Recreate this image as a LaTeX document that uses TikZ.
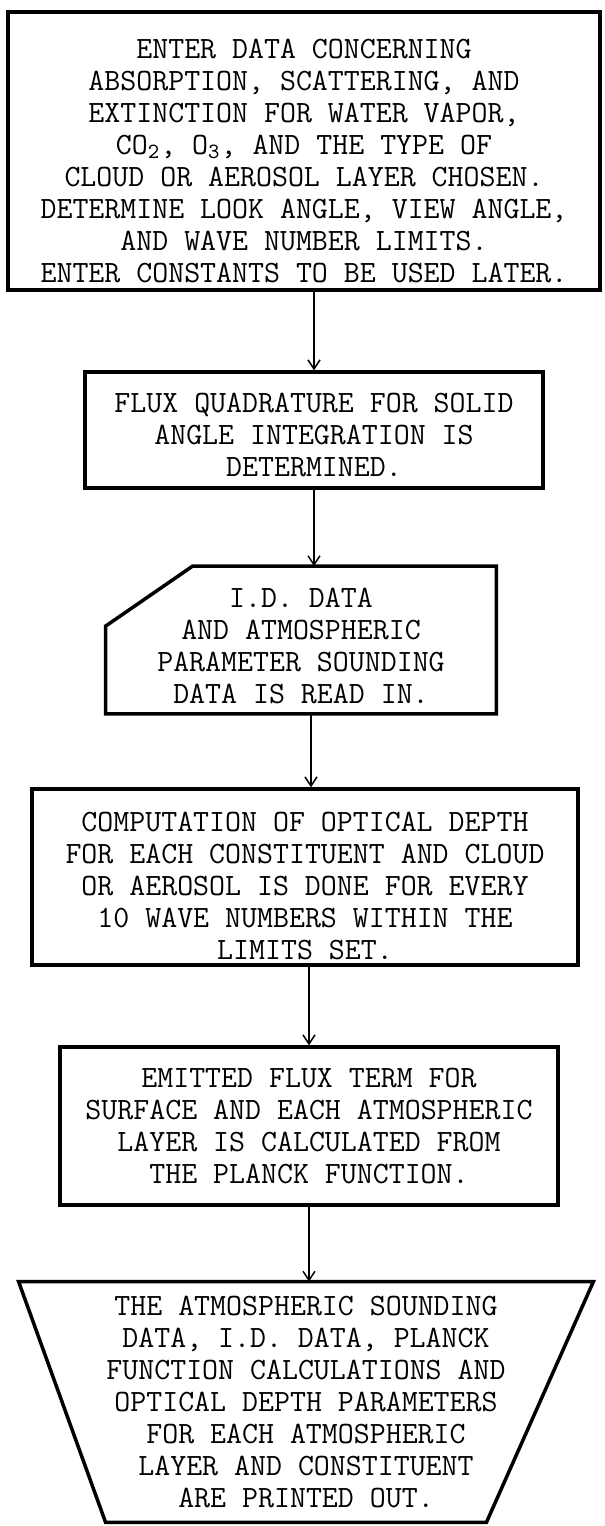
\documentclass[tikz,border=0pt]{standalone}
\usepackage{tikz}
\usetikzlibrary{arrows.meta}

% strut that pushes the typed lines a little lower in their box
\newcommand{\lowr}[1]{\rule{0pt}{#1}}

\begin{document}
\begin{tikzpicture}[
		x=0.5pt, y=-0.5pt,
		every node/.style={font=\ttfamily\fontsize{15.5}{16}\selectfont, align=center, inner sep=0pt},
		procbox/.style={draw, line width=1.75pt},
		bare/.style={draw=none},
		outline/.style={line width=1.75pt},
		flow/.style={line width=0.75pt, -{Straight Barb[length=4.5pt, width=6pt]}}
		]
	
	\useasboundingbox (0, 0) rectangle (605, 1526);
	
	% Box 1
	\node[procbox, minimum width=296pt, minimum height=139pt] (setup) at (304, 151) {\lowr{19.5pt}ENTER DATA CONCERNING\\ABSORPTION, SCATTERING, AND\\EXTINCTION FOR WATER VAPOR,\\CO\textsubscript{2}, O\textsubscript{3}, AND THE TYPE OF\\CLOUD OR AEROSOL LAYER CHOSEN.\\DETERMINE LOOK ANGLE, VIEW ANGLE,\\AND WAVE NUMBER LIMITS.\\ENTER CONSTANTS TO BE USED LATER.};
	
	% Box 2
	\node[procbox, minimum width=229pt, minimum height=58pt] (quad) at (314, 430) {\lowr{14.5pt}FLUX QUADRATURE FOR SOLID\\ANGLE INTEGRATION IS\\DETERMINED.};
	
	% Card
	\node[bare, minimum width=195pt, minimum height=73.5pt] (readin) at (301, 640) {\lowr{15.5pt}I.D. DATA\\AND ATMOSPHERIC\\PARAMETER SOUNDING\\DATA IS READ IN.};
	\draw[outline] ([xshift=43.5pt]readin.north west) -- (readin.north east) -- (readin.south east) -- (readin.south west) -- ([yshift=-30pt]readin.north west) -- cycle;
	
	% Box 3
	\node[procbox, minimum width=273pt, minimum height=88pt] (optdepth) at (305, 877) {\lowr{18.5pt}COMPUTATION OF OPTICAL DEPTH\\FOR EACH CONSTITUENT AND CLOUD\\OR AEROSOL IS DONE FOR EVERY\\10 WAVE NUMBERS WITHIN THE\\LIMITS SET.};
	
	% Box 4
	\node[procbox, minimum width=249pt, minimum height=79pt] (emit) at (309, 1126) {EMITTED FLUX TERM FOR\\SURFACE AND EACH ATMOSPHERIC\\LAYER IS CALCULATED FROM\\THE PLANCK FUNCTION.};
	
	% Output
	\node[bare, minimum width=287pt, minimum height=120pt] (prnt) at (306, 1402) {THE ATMOSPHERIC SOUNDING\\DATA, I.D. DATA, PLANCK\\FUNCTION CALCULATIONS AND\\OPTICAL DEPTH PARAMETERS\\FOR EACH ATMOSPHERIC\\LAYER AND CONSTITUENT\\ARE PRINTED OUT.};
	\draw[outline] (prnt.north west) -- (prnt.north east) -- ([xshift=-53.5pt]prnt.south east) -- ([xshift=43.5pt]prnt.south west) -- cycle;
	
	% Arrows
	\draw[flow] (setup.south -| quad.north) -- (quad.north);
	\draw[flow] (quad.south) -- (quad.south |- readin.north);
	\draw[flow] ([xshift=5pt]readin.south) -- ([xshift=5pt]readin.south |- optdepth.north);
	\draw[flow] (emit.north |- optdepth.south) -- (emit.north);
	\draw[flow] (emit.south) -- (emit.south |- prnt.north);
	
\end{tikzpicture}
\end{document}
